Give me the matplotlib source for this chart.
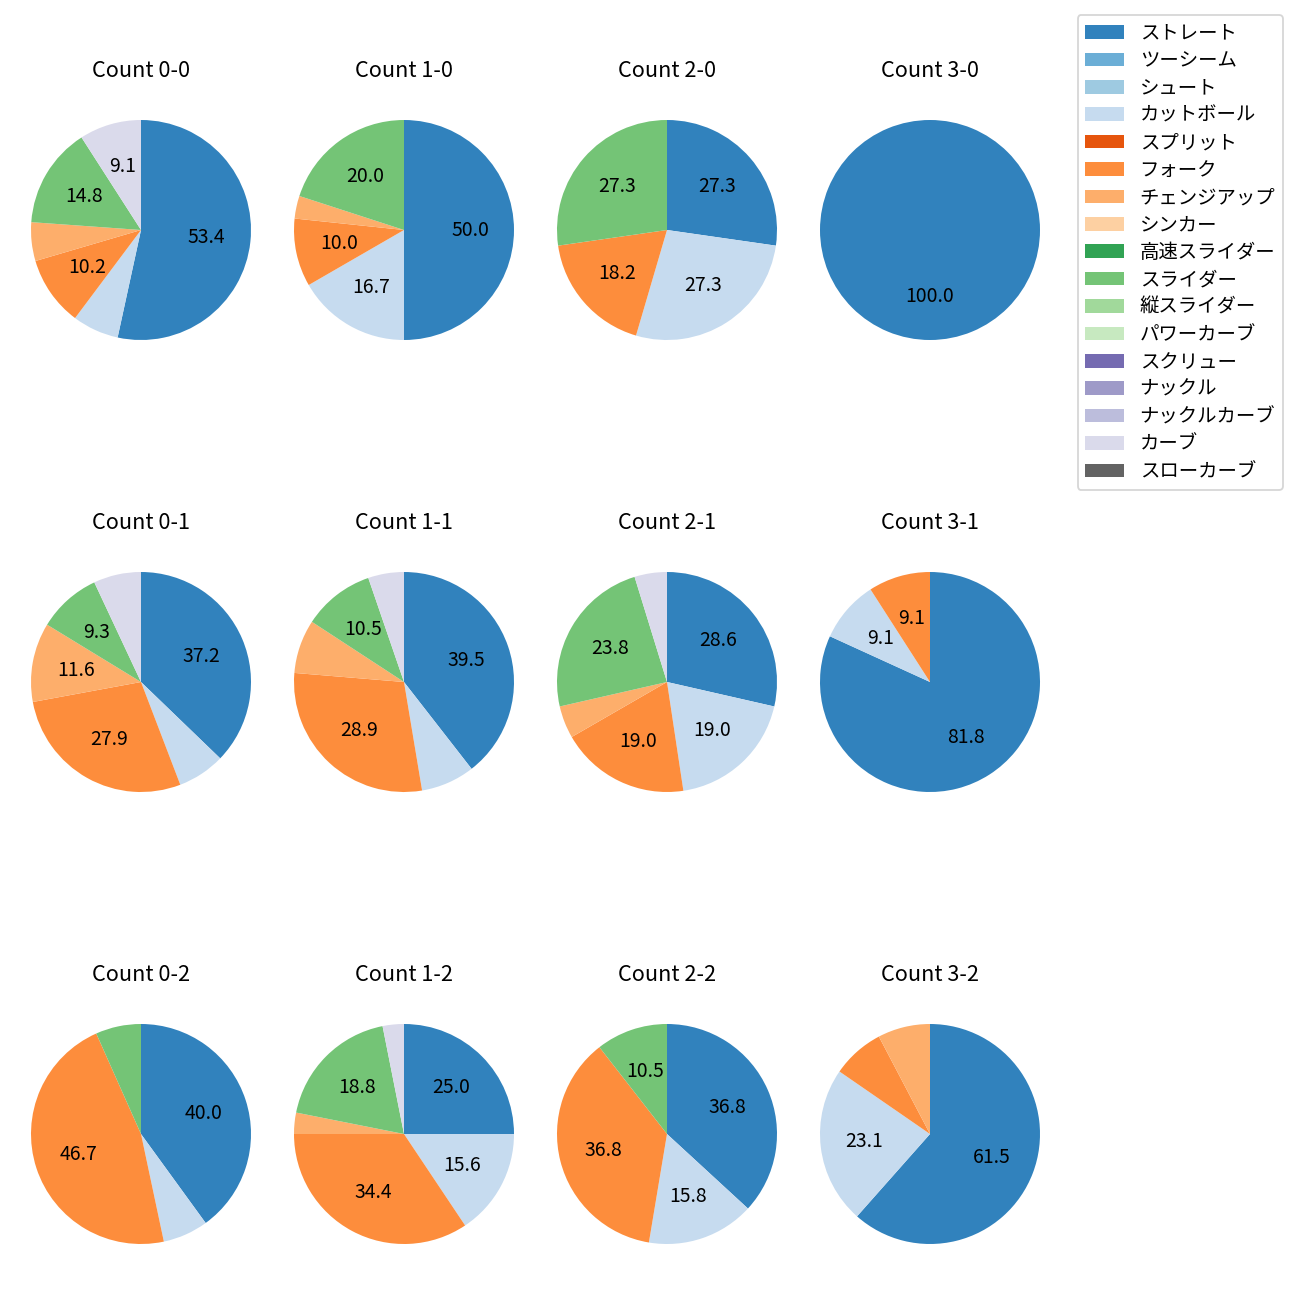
import matplotlib
matplotlib.use("Agg")
import matplotlib.pyplot as plt
from matplotlib.patches import Patch

plt.rcParams['font.family'] = ['Noto Sans CJK JP', 'DejaVu Sans']

# 球種（凡例の並び順）
pitch_types = ["ストレート", "ツーシーム", "シュート", "カットボール", "スプリット",
               "フォーク", "チェンジアップ", "シンカー", "高速スライダー", "スライダー",
               "縦スライダー", "パワーカーブ", "スクリュー", "ナックル", "ナックルカーブ",
               "カーブ", "スローカーブ"]

counts = ["0-0", "1-0", "2-0", "3-0",
          "0-1", "1-1", "2-1", "3-1",
          "0-2", "1-2", "2-2", "3-2"]

# カウント別の投球数（countsと同じ順）
straight = [47, 15, 3, 1, 16, 15, 6, 9, 6, 8, 7, 8]
cutball = [6, 5, 3, 0, 3, 3, 4, 1, 1, 5, 3, 3]
fork = [9, 3, 2, 0, 12, 11, 4, 1, 7, 11, 7, 1]
changeup = [5, 1, 0, 0, 5, 3, 1, 0, 0, 1, 0, 1]
slider = [13, 6, 3, 0, 4, 4, 5, 0, 1, 6, 2, 0]
curve = [8, 0, 0, 0, 3, 2, 1, 0, 0, 1, 0, 0]

pitch_data = {
    "ストレート": straight,
    "カットボール": cutball,
    "フォーク": fork,
    "チェンジアップ": changeup,
    "スライダー": slider,
    "カーブ": curve,
}

cmap = plt.get_cmap("tab20c")
colors = [cmap(i) for i in range(len(pitch_types))]


def fmt_pct(p):
    return f"{p:.1f}" if p >= 8.5 else ""


fig = plt.figure(figsize=(10, 10), dpi=130)
W, H = 1300.0, 1300.0
size = 275.0

for i, cnt in enumerate(counts):
    row, col = divmod(i, 4)
    cx = 141 + 263 * col
    cy = 230 + 452 * row
    ax = fig.add_axes([(cx - size / 2) / W, 1 - (cy + size / 2) / H, size / W, size / H])

    vals, cols = [], []
    for k, name in enumerate(pitch_types):
        if name in pitch_data and pitch_data[name][i] > 0:
            vals.append(pitch_data[name][i])
            cols.append(colors[k])

    ax.pie(vals, colors=cols, startangle=90, counterclock=False,
           autopct=fmt_pct, textprops={"fontsize": 10.75})
    ax.set_title(f"Count {cnt}", fontsize=12, pad=8.5)

# 凡例は全球種を表示
handles = [Patch(facecolor=colors[k], label=name) for k, name in enumerate(pitch_types)]
fig.legend(handles=handles, loc="upper right", fontsize=10.75, labelspacing=0.33,
           bbox_to_anchor=(1283 / W, 1 - 15 / H), borderaxespad=0)

fig.savefig("out.png", dpi=130)
plt.close(fig)
